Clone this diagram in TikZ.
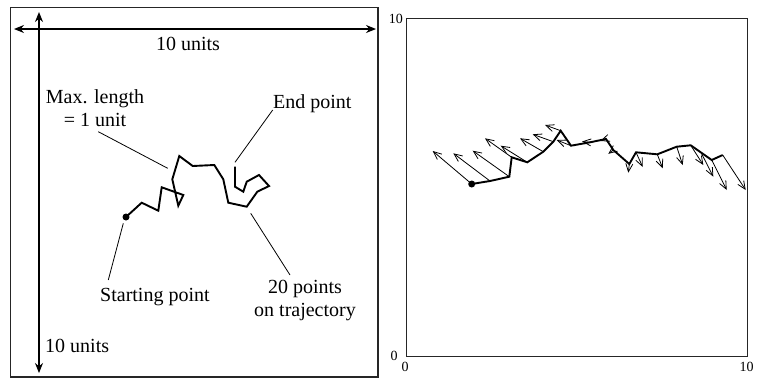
\documentclass[tikz,border=0pt]{standalone}
\usepackage{fontspec}
\setmainfont{Liberation Serif}
\usetikzlibrary{arrows.meta}
\begin{document}
\begin{tikzpicture}[x=1pt,y=-1pt,
  lbl/.style={font=\fontsize{20}{23}\selectfont, inner sep=0pt},
  axlbl/.style={font=\fontsize{14}{16}\selectfont, inner sep=0pt},
  frame/.style={line width=1.4pt, draw=black!85},
  dimarrow/.style={line width=1.2pt, {Stealth[length=10pt,width=8pt]}-{Stealth[length=10pt,width=8pt]}},
  traj/.style={line width=1.9pt, line join=miter},
  leader/.style={line width=0.8pt},
  vec/.style={line width=0.8pt, -{Straight Barb[length=8pt,width=7pt]}},
  dot/.style={circle, fill, inner sep=0pt, minimum size=7pt}
]
\useasboundingbox (0,0) rectangle (760,381);

% ---------- left panel ----------
\draw[frame] (10.5,7.5) rectangle (378,377);
\coordinate (hl) at (14,29);
\coordinate (hr) at (376,29);
\coordinate (vt) at (39,12);
\coordinate (vb) at (39,373);
\draw[dimarrow] (hl) -- (hr);
\draw[dimarrow] (vt) -- (vb);
\node[lbl, anchor=base] (topunits) at (188,50) {10 units};
\node[lbl, anchor=base west] (sideunits) at (45,352) {10 units};

\coordinate (L1) at (126,217);
\coordinate (L2) at (141.7,202.7);
\coordinate (L3) at (158.3,210.7);
\coordinate (L4) at (161.7,187.3);
\coordinate (L5) at (183.3,195);
\coordinate (L6) at (178.3,205.7);
\coordinate (L7) at (172.3,179.3);
\coordinate (L8) at (179.3,156);
\coordinate (L9) at (192.7,166);
\coordinate (L10) at (214.3,165);
\coordinate (L11) at (223.3,179.3);
\coordinate (L12) at (228.3,202.7);
\coordinate (L13) at (246.7,206.7);
\coordinate (L14) at (257.3,191.7);
\coordinate (L15) at (269,186);
\coordinate (L16) at (259,175);
\coordinate (L17) at (246.7,181.7);
\coordinate (L18) at (243.3,191.7);
\coordinate (L19) at (235,186.7);
\coordinate (L20) at (235,166.7);
\draw[traj] (L1) -- (L2) -- (L3) -- (L4) -- (L5) -- (L6) -- (L7) -- (L8) -- (L9) -- (L10)
  -- (L11) -- (L12) -- (L13) -- (L14) -- (L15) -- (L16) -- (L17) -- (L18) -- (L19) -- (L20);
\node[dot] (startdot) at (L1) {};

\node[lbl, anchor=base, align=center] (maxlen) at (95,126) {Max. length\\= 1 unit};
\node[lbl, anchor=base west] (endpt) at (273,108) {End point};
\node[lbl, anchor=base west] (startpt) at (100,301) {Starting point};
\node[lbl, anchor=base, align=center] (twenty) at (305,316) {20 points\\on trajectory};

\coordinate (mlA) at (98.3,131.7);
\coordinate (mlB) at (167.7,168.3);
\coordinate (epA) at (272.7,110);
\coordinate (epB) at (235,162.3);
\coordinate (spA) at (123.3,223.3);
\coordinate (spB) at (108.3,280);
\coordinate (tpA) at (250.7,213.3);
\coordinate (tpB) at (290,275);
\draw[leader] (mlA) -- (mlB);
\draw[leader] (epA) -- (epB);
\draw[leader] (spA) -- (spB);
\draw[leader] (tpA) -- (tpB);

% ---------- right panel ----------
\draw[frame] (406.7,18.5) rectangle (747.7,356.7);
\node[axlbl, anchor=base east] (ytop) at (403,23) {10};
\node[axlbl, anchor=base] (yzero) at (394,360) {0};
\node[axlbl, anchor=base] (xzero) at (405,371) {0};
\node[axlbl, anchor=base] (xten) at (746.7,371) {10};

\coordinate (R1) at (471.7,184);     \coordinate (V1) at (432.7,151);
\coordinate (R2) at (490,181);       \coordinate (V2) at (453.3,153.3);
\coordinate (R3) at (509.3,176.7);   \coordinate (V3) at (472.7,150.7);
\coordinate (R4) at (511.7,157.3);   \coordinate (V4) at (485,138.3);
\coordinate (R5) at (527.3,162.3);   \coordinate (V5) at (500.7,145.7);
\coordinate (R6) at (543.3,151.7);   \coordinate (V6) at (520,138.3);
\coordinate (R7) at (553.3,141.7);   \coordinate (V7) at (532.7,134.3);
\coordinate (R8) at (560.7,130.7);   \coordinate (V8) at (545,125);
\coordinate (R9) at (571,145.7);     \coordinate (V9) at (556.7,140);
\coordinate (R10) at (590,142.3);    \coordinate (V10) at (582,141.5);
\coordinate (R11) at (606,139);      \coordinate (V11) at (600.5,141);
\coordinate (R12) at (613.3,150);    \coordinate (V12) at (608.3,153.8);
\coordinate (R13) at (629.3,164);    \coordinate (V13) at (628.3,172.7);
\coordinate (R14) at (636,152.3);    \coordinate (V14) at (642.7,167);
\coordinate (R15) at (657.3,154.3);  \coordinate (V15) at (662.7,168.3);
\coordinate (R16) at (676.7,146.7);  \coordinate (V16) at (682.7,165);
\coordinate (R17) at (690.7,145.3);  \coordinate (V17) at (703.3,165);
\coordinate (R18) at (701,152.5);    \coordinate (V18) at (713.3,176.7);
\coordinate (R19) at (711.7,160);    \coordinate (V19) at (726.7,190);
\coordinate (R20) at (722.7,155);    \coordinate (V20) at (745.7,190);
\draw[traj] (R1) -- (R2) -- (R3) -- (R4) -- (R5) -- (R6) -- (R7) -- (R8) -- (R9) -- (R10)
  -- (R11) -- (R12) -- (R13) -- (R14) -- (R15) -- (R16) -- (R17) -- (R18) -- (R19) -- (R20);
\foreach \i in {1,...,20} { \draw[vec] (R\i) -- (V\i); }
\node[dot] (rstart) at (R1) {};
\end{tikzpicture}
\end{document}
